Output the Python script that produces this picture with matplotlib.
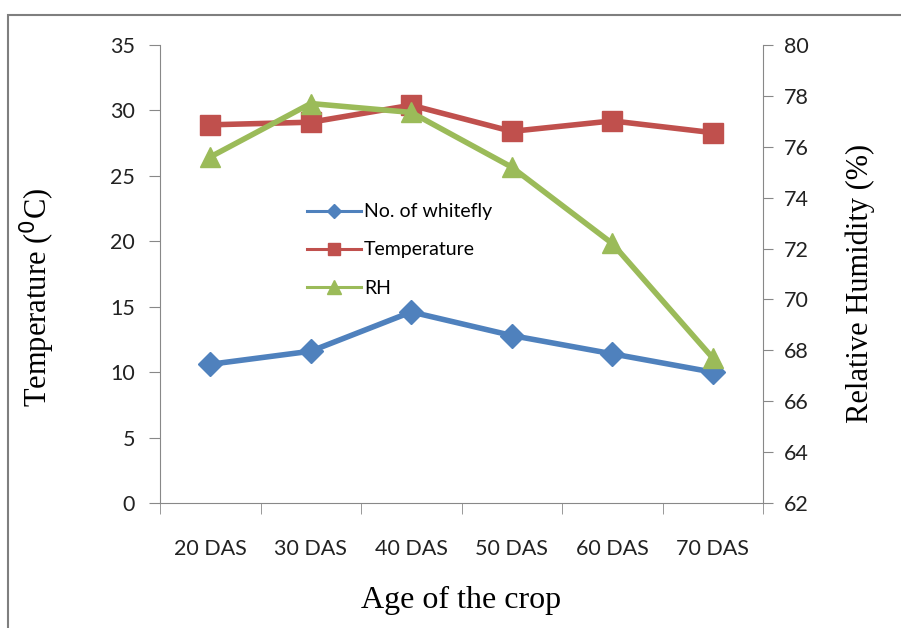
import numpy as np
import matplotlib.pyplot as plt
from matplotlib.lines import Line2D
from matplotlib.patches import Rectangle

# data
ages = ['20 DAS', '30 DAS', '40 DAS', '50 DAS', '60 DAS', '70 DAS']
whitefly = [10.6, 11.6, 14.6, 12.8, 11.4, 10.0]
temperature = [28.9, 29.1, 30.4, 28.4, 29.2, 28.3]
rh = [75.6, 77.7, 77.35, 75.2, 72.2, 67.7]

blue = '#4F81BD'
red = '#C0504D'
green = '#9BBB59'
gris = '#888888'
tick_font = 'Lato'
serif = 'Liberation Serif'

fig = plt.figure(figsize=(9.01, 6.28), dpi=100)
fig.patches.append(Rectangle((8/901, -0.5), 2, 1.5 - 15/628, transform=fig.transFigure,
                             fill=False, edgecolor='#7f7f7f', lw=1.5))

ax = fig.add_axes([160/901, 1 - 503/628, (763 - 160)/901, (503 - 45)/628])
ax2 = ax.twinx()

x = np.arange(len(ages))
ax.plot(x, whitefly, color=blue, lw=4, marker='D', ms=12, zorder=3)
ax.plot(x, temperature, color=red, lw=4, marker='s', ms=14, zorder=3)
ax2.plot(x, rh, color=green, lw=4, marker='^', ms=15, zorder=3)

ax.set_xlim(-0.5, 5.5)
ax.set_ylim(0, 35)
ax.set_yticks(np.arange(0, 36, 5))
ax2.set_ylim(62, 80)
ax2.set_yticks(np.arange(62, 81, 2))

ax.set_xticks(x)
ax.set_xticklabels(ages)
ax.set_xticks(np.arange(-0.5, 5.6, 1), minor=True)
ax.tick_params(axis='x', which='major', length=0, pad=26)
ax.tick_params(axis='x', which='minor', length=8, direction='out', color=gris)

for a in (ax, ax2):
    for s in a.spines.values():
        s.set_visible(False)
    for lab in a.get_xticklabels() + a.get_yticklabels():
        lab.set_fontfamily(tick_font)
        lab.set_fontsize(15.5)
        lab.set_color('#222222')
ax.spines['left'].set_visible(True)
ax.spines['left'].set_color(gris)
ax.spines['bottom'].set_visible(True)
ax.spines['bottom'].set_color(gris)
ax2.spines['right'].set_visible(True)
ax2.spines['right'].set_color(gris)
ax.tick_params(axis='y', length=8, color=gris, pad=10)
ax2.tick_params(axis='y', length=7, color=gris, pad=8)

ax.set_xlabel('Age of the crop', fontfamily=serif, fontsize=23)
ax.set_ylabel('Temperature ($^{\\mathrm{0}}$C)', fontfamily=serif, fontsize=22)
ax2.set_ylabel('Relative Humidity (%)', fontfamily=serif, fontsize=22)
ax.xaxis.set_label_coords(0.5, -0.182)
ax.yaxis.set_label_coords(-0.17, 0.45)
ax2.yaxis.set_label_coords(1.136, 0.48)

handles = [Line2D([], [], color=blue, lw=2.2, marker='D', ms=7),
           Line2D([], [], color=red, lw=2.2, marker='s', ms=9),
           Line2D([], [], color=green, lw=2.2, marker='^', ms=10)]
ax2.legend(handles, ['No. of whitefly', 'Temperature', 'RH'], loc='upper left',
           bbox_to_anchor=(129/603, 1 - 141/458), frameon=False, handlelength=2.8,
           handletextpad=0.15, labelspacing=1.08, prop={'family': tick_font, 'size': 14})

fig.savefig('out.png', dpi=100)
